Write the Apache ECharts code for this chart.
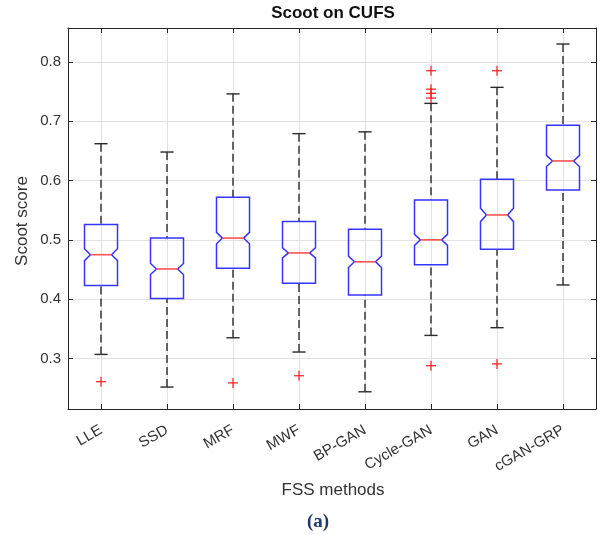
<!DOCTYPE html>
<html>
<head>
<meta charset="utf-8">
<script src="https://cdn.jsdelivr.net/npm/echarts@6/dist/echarts.min.js"></script>
<style>
    html, body { margin: 0; padding: 0; background: #fff; }
    #chart { width: 599px; height: 535px; }
</style>
</head>
<body>
<div id="chart"></div>
<script>
    // box statistics
    const categories = ['LLE', 'SSD', 'MRF', 'MWF', 'BP-GAN', 'Cycle-GAN', 'GAN', 'cGAN-GRP']
    const whiskerLow = [0.307, 0.252, 0.335, 0.311, 0.244, 0.339, 0.352, 0.424]
    const q1 = [0.423, 0.401, 0.452, 0.427, 0.407, 0.458, 0.484, 0.584]
    const median = [0.475, 0.451, 0.503, 0.478, 0.463, 0.500, 0.542, 0.633]
    const q3 = [0.526, 0.503, 0.572, 0.531, 0.518, 0.567, 0.602, 0.693]
    const whiskerHigh = [0.662, 0.648, 0.746, 0.679, 0.682, 0.730, 0.757, 0.830]
    const notchHalf = [0.0100, 0.0093, 0.0096, 0.0084, 0.0096, 0.0093, 0.0113, 0.0093]
    // [category index, value]
    const outliers = [
        [0, 0.261], [2, 0.259], [3, 0.271],
        [5, 0.785], [5, 0.754], [5, 0.747], [5, 0.739], [5, 0.288],
        [6, 0.785], [6, 0.291]
    ]

    const font = 'Liberation Sans, Arial, sans-serif'
    const frameColor = '#262626'
    const gridColor = '#e2e2e2'

    const boxData = categories.map((c, i) => [i, whiskerLow[i], q1[i], median[i], q3[i], whiskerHigh[i], notchHalf[i]])

    function renderBox(params, api) {
        const i = api.value(0)
        const band = api.size([1, 0])[0]
        const half = band * 0.25
        const indent = half * 0.36
        const cap = band * 0.1
        const x = api.coord([i, api.value(3)])[0]
        const y = (v) => api.coord([i, v])[1]
        const yWl = y(api.value(1)), yQ1 = y(api.value(2)), yMed = y(api.value(3))
        const yQ3 = y(api.value(4)), yWh = y(api.value(5))
        const yNh = y(api.value(3) + api.value(6)), yNl = y(api.value(3) - api.value(6))
        const L = x - half, R = x + half
        const whisk = { stroke: '#2a2a2a', lineWidth: 1.4, lineDash: [8, 4] }
        const capStyle = { stroke: '#2a2a2a', lineWidth: 1.4 }
        return {
            type: 'group',
            children: [
                { type: 'line', shape: { x1: x, y1: yWh, x2: x, y2: yQ3 }, style: whisk },
                { type: 'line', shape: { x1: x, y1: yWl, x2: x, y2: yQ1 }, style: whisk },
                { type: 'line', shape: { x1: x - cap, y1: yWh, x2: x + cap, y2: yWh }, style: capStyle },
                { type: 'line', shape: { x1: x - cap, y1: yWl, x2: x + cap, y2: yWl }, style: capStyle },
                {
                    type: 'polygon',
                    shape: {
                        points: [
                            [L, yQ3], [R, yQ3], [R, yNh], [R - indent, yMed], [R, yNl], [R, yQ1],
                            [L, yQ1], [L, yNl], [L + indent, yMed], [L, yNh]
                        ]
                    },
                    style: { fill: 'none', stroke: '#3535ff', lineWidth: 1.5 }
                },
                { type: 'line', shape: { x1: L + indent, y1: yMed, x2: R - indent, y2: yMed }, style: { stroke: '#ff5252', lineWidth: 1.6 } }
            ]
        }
    }

    function renderOutlier(params, api) {
        const p = api.coord([api.value(0), api.value(1)])
        const s = 5
        const st = { stroke: '#ff1a1a', lineWidth: 1.2 }
        return {
            type: 'group',
            children: [
                { type: 'line', shape: { x1: p[0] - s, y1: p[1], x2: p[0] + s, y2: p[1] }, style: st },
                { type: 'line', shape: { x1: p[0], y1: p[1] - s, x2: p[0], y2: p[1] + s }, style: st }
            ]
        }
    }

    const myChart = echarts.init(document.getElementById('chart'))
    const options = {
        animation: false,
        grid: { left: 68, right: 3, top: 28, bottom: 126, show: false },
        xAxis: [
            {
                type: 'category',
                data: categories,
                boundaryGap: true,
                axisLine: { show: true, lineStyle: { color: frameColor, width: 1 } },
                axisTick: { show: true, inside: true, alignWithLabel: true, interval: 0, length: 5, lineStyle: { color: frameColor } },
                axisLabel: { rotate: 30, margin: 20, interval: 0, fontSize: 15, color: '#333', fontFamily: font },
                splitLine: { show: true, alignWithLabel: true, interval: 0, lineStyle: { color: gridColor } }
            },
            {
                type: 'category',
                data: categories,
                position: 'top',
                boundaryGap: true,
                axisLine: { show: true, lineStyle: { color: frameColor, width: 1 } },
                axisTick: { show: true, inside: true, alignWithLabel: true, interval: 0, length: 5, lineStyle: { color: frameColor } },
                axisLabel: { show: false },
                splitLine: { show: false }
            }
        ],
        yAxis: [
            {
                type: 'value',
                min: 0.215,
                max: 0.857,
                axisLine: { show: true, lineStyle: { color: frameColor, width: 1 } },
                axisTick: { show: true, inside: true, length: 5, lineStyle: { color: frameColor } },
                axisLabel: {
                    fontSize: 15, color: '#333', fontFamily: font, margin: 7,
                    showMinLabel: false, showMaxLabel: false,
                    formatter: (v) => v.toFixed(1)
                },
                splitLine: { show: true, lineStyle: { color: gridColor } }
            },
            {
                type: 'value',
                min: 0.215,
                max: 0.857,
                position: 'right',
                axisLine: { show: true, lineStyle: { color: frameColor, width: 1 } },
                axisTick: { show: true, inside: true, length: 5, lineStyle: { color: frameColor } },
                axisLabel: { show: false },
                splitLine: { show: false }
            }
        ],
        graphic: [
            { type: 'text', x: 333, y: 13, style: { text: 'Scoot on CUFS', font: 'bold 17px ' + font, fill: '#111', textAlign: 'center', textVerticalAlign: 'middle' } },
            { type: 'text', x: 22, y: 221, rotation: Math.PI / 2, style: { text: 'Scoot score', font: '17px ' + font, fill: '#333', textAlign: 'center', textVerticalAlign: 'middle' } },
            { type: 'text', x: 333, y: 490, style: { text: 'FSS methods', font: '17px ' + font, fill: '#333', textAlign: 'center', textVerticalAlign: 'middle' } },
            { type: 'text', x: 318, y: 522, style: { text: '(a)', font: 'bold 19px Liberation Serif, Times New Roman, serif', fill: '#1f3a6e', textAlign: 'center', textVerticalAlign: 'middle' } }
        ],
        series: [
            { type: 'custom', xAxisIndex: 0, yAxisIndex: 0, data: boxData, renderItem: renderBox, z: 3 },
            { type: 'custom', xAxisIndex: 0, yAxisIndex: 0, data: outliers, renderItem: renderOutlier, z: 4 }
        ]
    }
    myChart.setOption(options)
    window.addEventListener('resize', myChart.resize)
</script>
</body>
</html>
